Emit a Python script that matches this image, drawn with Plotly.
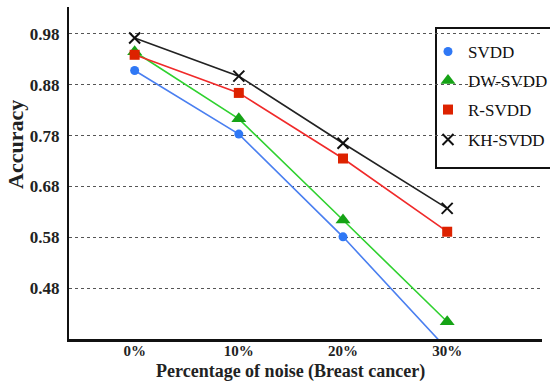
import plotly.graph_objects as go

categories = ["0%", "10%", "20%", "30%"]
series_names = ["SVDD", "DW-SVDD", "R-SVDD", "KH-SVDD"]
svdd = [0.908, 0.783, 0.581, 0.36]
dw_svdd = [0.945, 0.813, 0.614, 0.414]
r_svdd = [0.939, 0.864, 0.735, 0.591]
kh_svdd = [0.972, 0.897, 0.765, 0.637]
y_ticks = [0.48, 0.58, 0.68, 0.78, 0.88, 0.98]
x_title = "Percentage of noise (Breast cancer)"
y_title = "Accuracy"

values = [svdd, dw_svdd, r_svdd, kh_svdd]
line_colors = ["#4a7ff0", "#2fd12f", "#f02a2a", "#222222"]
marker_colors = ["#2f78f5", "#16a316", "#dd2200", "#111111"]
symbols = ["circle", "triangle-up", "square", "x-thin"]
msizes = [9, 13, 10, 11]
legend_names = ["legend", "legend2", "legend3", "legend4"]

W, H = 550, 382
L, R, T, B = 69, 8, 7, 43
pw, ph = W - L - R, H - T - B

def px_x(px):
    return (px - L) / pw

def px_y(py):
    return (H - B - py) / ph

xs = list(range(len(categories)))
fig = go.Figure()
for i, name in enumerate(series_names):
    fig.add_trace(go.Scatter(x=xs, y=values[i], mode="lines",
                             line=dict(color=line_colors[i], width=1.6),
                             showlegend=False, hoverinfo="skip"))
for i, name in enumerate(series_names):
    mk = dict(color=marker_colors[i], size=msizes[i], symbol=symbols[i])
    if symbols[i] == "x-thin":
        mk["line"] = dict(color=marker_colors[i], width=2)
    fig.add_trace(go.Scatter(x=xs, y=values[i], mode="markers", name=name,
                             marker=mk, legend=legend_names[i], cliponaxis=True))

legend_y_px = [52, 81, 110, 140]
layout_legends = {}
for i, ln in enumerate(legend_names):
    layout_legends[ln] = dict(x=px_x(428), y=px_y(legend_y_px[i]), xanchor="left", yanchor="middle",
                              xref="paper", yref="paper",
                              bgcolor="rgba(0,0,0,0)", borderwidth=0,
                              font=dict(family="Liberation Serif", size=17, color="#111"),
                              itemwidth=30)

fig.update_layout(
    width=W, height=H, autosize=False,
    margin=dict(l=L, r=R, t=T, b=B, autoexpand=False),
    paper_bgcolor="white", plot_bgcolor="white",
    **layout_legends,
    shapes=[dict(type="rect", xref="paper", yref="paper",
                 x0=px_x(436), x1=px_x(580), y0=px_y(168), y1=px_y(28),
                 line=dict(color="#111", width=2), fillcolor="white", layer="between")],
    annotations=[
        dict(text="<b>%s</b>" % x_title, xref="paper", yref="paper",
             x=px_x(290), y=px_y(371), xanchor="center", yanchor="middle", showarrow=False,
             font=dict(family="Liberation Serif", size=18, color="#222")),
        dict(text="<b>%s</b>" % y_title, xref="paper", yref="paper",
             x=px_x(16), y=px_y(145), xanchor="center", yanchor="middle", showarrow=False,
             textangle=-90, font=dict(family="Liberation Serif", size=22, color="#222")),
    ],
)
fig.update_xaxes(
    range=[-0.63, 3.91], tickmode="array", tickvals=xs,
    ticktext=["<b>%s</b>" % c for c in categories],
    showgrid=False, zeroline=False,
    showline=True, linecolor="#111", linewidth=3,
    ticks="", ticklen=0, ticklabelstandoff=-4,
    tickfont=dict(family="Liberation Serif", size=15, color="#222"),
    automargin=False,
)
fig.update_yaxes(
    range=[0.38, 1.033], tickmode="array", tickvals=y_ticks,
    ticktext=["<b>%.2f</b>" % v for v in y_ticks],
    showgrid=True, gridcolor="#555", griddash="dot", gridwidth=1.3,
    zeroline=False, showline=True, linecolor="#111", linewidth=2,
    ticks="", ticklabelstandoff=4,
    tickfont=dict(family="Liberation Serif", size=17, color="#222"),
    automargin=False,
)

fig.write_html("out.html")
